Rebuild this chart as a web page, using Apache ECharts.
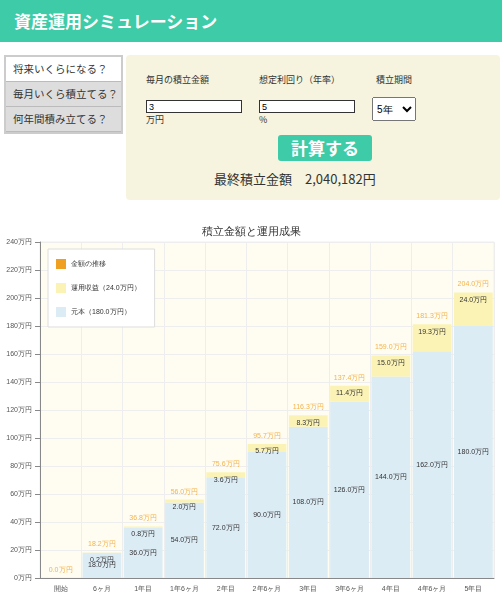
<!DOCTYPE html>
<html><head><meta charset="utf-8">
<script src="https://cdn.jsdelivr.net/npm/echarts@6/dist/echarts.min.js"></script>
<style>
body{margin:0;width:502px;height:600px;overflow:hidden;font-family:"Noto Sans CJK JP",sans-serif;background:#fff;}
#hdr{position:absolute;left:0;top:0;width:502px;height:42px;background:#3ecba8;color:#fff;font-weight:bold;font-size:17px;line-height:42px;}
#hdr span{margin-left:14px;}
#tabs{position:absolute;left:4px;top:55px;width:115px;border:2px solid #ccc;}
#tabs div{height:24px;line-height:24px;font-size:10.5px;padding-left:7px;background:#ddd;color:#333;border-bottom:1px solid #bbb;white-space:nowrap;}
#tabs div.on{background:#fff;}
#form{position:absolute;left:126px;top:55px;width:374px;height:145px;background:#f6f4df;border-radius:4px;font-size:9px;color:#333;}
.lbl{position:absolute;top:18px;}
input{position:absolute;top:45px;height:11px;width:90px;border:1px solid #333;font-size:9px;padding:0 2px;}
select{position:absolute;left:246px;top:42px;width:44px;height:24px;font-size:10px;}
#btn{position:absolute;left:152px;top:80px;width:94px;height:26px;background:#3ecba8;color:#fff;font-weight:bold;font-size:17px;text-align:center;line-height:26px;border-radius:3px;}
#res{position:absolute;left:88px;top:114px;font-size:13px;}
#chart{position:absolute;left:0;top:215px;width:502px;height:385px;}
</style></head><body>
<div id="hdr"><span>資産運用シミュレーション</span></div>
<div id="tabs"><div class="on">将来いくらになる？</div><div>毎月いくら積立てる？</div><div>何年間積み立てる？</div></div>
<div id="form">
<div class="lbl" style="left:20px">毎月の積立金額</div>
<div class="lbl" style="left:133px">想定利回り（年率）</div>
<div class="lbl" style="left:250px">積立期間</div>
<input style="left:20px" value="3"><div style="position:absolute;left:20px;top:58px">万円</div>
<input style="left:133px" value="5"><div style="position:absolute;left:133px;top:58px">%</div>
<select><option>5年</option></select>
<div id="btn">計算する</div>
<div id="res">最終積立金額　2,040,182円</div>
</div>
<div id="chart"></div>
<script>
const categories=['開始','6ヶ月','1年目','1年6ヶ月','2年目','2年6ヶ月','3年目','3年6ヶ月','4年目','4年6ヶ月','5年目'];
const principal=[0,18,36,54,72,90,108,126,144,162,180];
const gains=[0,0.2,0.8,2.0,3.6,5.7,8.3,11.4,15.0,19.3,24.0];
const totals=[0.0,18.2,36.8,56.0,75.6,95.7,116.3,137.4,159.0,181.3,204.0];
const c=echarts.init(document.getElementById('chart'));
c.setOption({
 animation:false,
 title:{text:'積立金額と運用成果',left:'center',top:6,textStyle:{fontSize:11,fontWeight:'normal',color:'#333'}},
 legend:{orient:'vertical',left:48,top:34,itemWidth:10,itemHeight:10,itemGap:14,padding:[10,14,10,8],borderColor:'#ddd',borderWidth:1,backgroundColor:'#fff',textStyle:{fontSize:7,color:'#333'},
   data:[{name:'金額の推移',icon:'rect',itemStyle:{color:'#f0a020',opacity:1}},{name:'運用収益（24.0万円）',icon:'rect'},{name:'元本（180.0万円）',icon:'rect'}]},
 grid:{left:40,right:8,top:27,bottom:22,backgroundColor:'#fffdf2',show:true,borderColor:'#eee'},
 xAxis:{type:'category',data:categories,axisTick:{show:false},axisLine:{lineStyle:{color:'#888'}},axisLabel:{fontSize:7,color:'#555'},splitLine:{show:true,lineStyle:{color:'#eee'}}},
 yAxis:{type:'value',min:0,max:240,interval:20,axisLine:{show:true,lineStyle:{color:'#888'}},axisTick:{show:true},axisLabel:{fontSize:7,color:'#555',formatter:'{value}万円'},splitLine:{lineStyle:{color:'#eee'}}},
 series:[
  {name:'元本（180.0万円）',type:'bar',stack:'a',data:principal,barCategoryGap:'6%',itemStyle:{color:'#dcecf5'},
   label:{show:true,position:'inside',fontSize:7,color:'#333',formatter:p=>p.value>0?p.value.toFixed(1)+'万円':''}},
  {name:'運用収益（24.0万円）',type:'bar',stack:'a',data:gains,itemStyle:{color:'#fbf3b5'},
   label:{show:true,position:'insideTop',offset:[0,-1],fontSize:7,color:'#333',formatter:p=>p.value>0?p.value.toFixed(1)+'万円':''}},
  {name:'金額の推移',type:'scatter',data:totals,symbolSize:1,itemStyle:{color:'rgba(240,160,32,0)'},
   label:{show:true,position:'top',distance:4,fontSize:7,color:'#f0a020',formatter:p=>p.value.toFixed(1)+'万円'}}
 ]
});
</script></body></html>
